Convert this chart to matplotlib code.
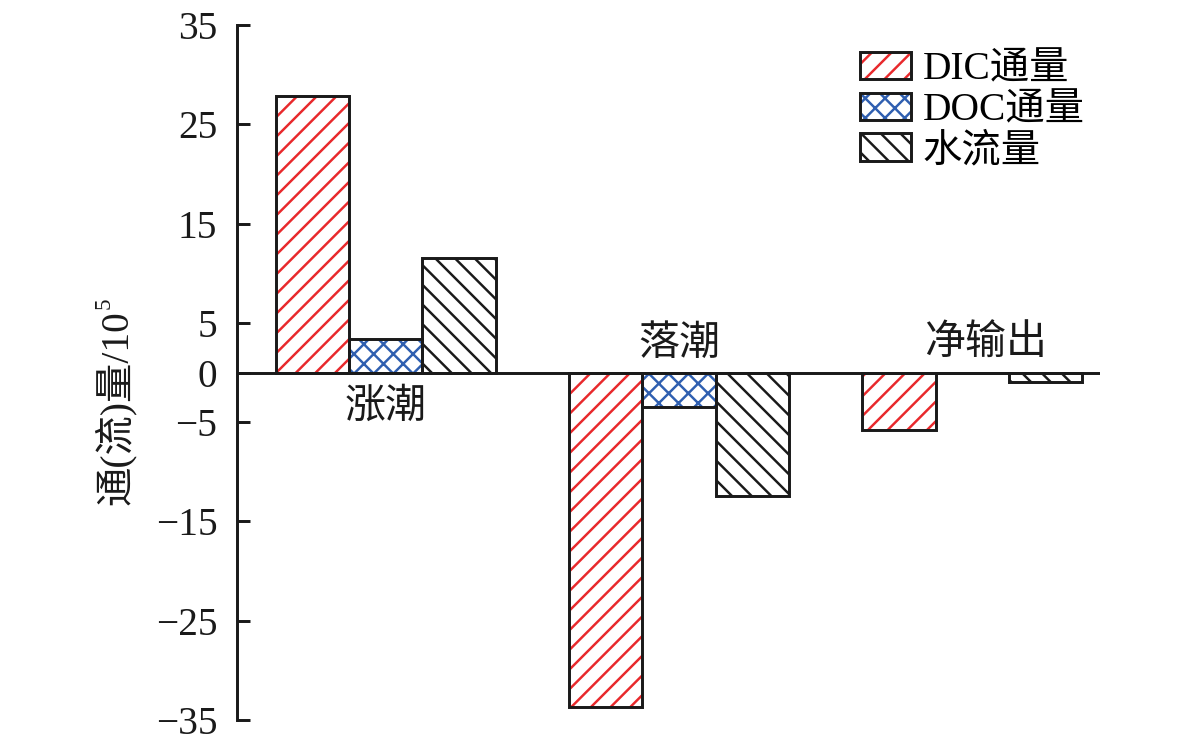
import matplotlib
matplotlib.use("Agg")
import matplotlib.pyplot as plt
from matplotlib.patches import Patch
from matplotlib.legend_handler import HandlerTuple
import numpy as np

categories = ["涨潮", "落潮", "净输出"]
series_names = ["DIC通量", "DOC通量", "水流量"]
dic_values = [27.8, -33.7, -5.8]
doc_values = [3.35, -3.5, 0.0]
water_values = [11.5, -12.4, -1.0]
yticks = [35, 25, 15, 5, 0, -5, -15, -25, -35]
ytick_labels = ["35", "25", "15", "5", "0", "\u22125", "\u221215", "\u221225", "\u221235"]

plt.rcParams['font.family'] = ['Liberation Serif', 'Noto Sans CJK SC']
plt.rcParams['hatch.linewidth'] = 1.5

DPI = 118
fig = plt.figure(figsize=(1181 / DPI, 745 / DPI), dpi=DPI)
ax = fig.add_axes([237 / 1181, 1 - 720 / 745, (1100 - 237) / 1181, (720 - 25) / 745])

x = np.arange(len(categories))
w = 0.25
hatch_colors = ["#e8292c", "#2f5fb0", "#1a1a1a"]
hatches = ["//", "xx", "\\\\"]
all_vals = [dic_values, doc_values, water_values]
handles = []
for i, (vals, hc, h) in enumerate(zip(all_vals, hatch_colors, hatches)):
    pos = x + (i - 1) * w
    ax.bar(pos, vals, w, facecolor="white", edgecolor=hc, hatch=h, linewidth=0, zorder=2)
    ax.bar(pos, vals, w, fill=False, edgecolor="#1a1a1a", linewidth=1.8, zorder=3)
    hp = Patch(facecolor="white", edgecolor=hc, hatch=h, linewidth=0)
    op = Patch(fill=False, edgecolor="#1a1a1a", linewidth=1.8)
    handles.append((hp, op))

ax.axhline(0, color="#1a1a1a", linewidth=1.8, zorder=4)

ax.set_xlim(-0.507, 2.435)
ax.set_ylim(-35, 35)
ax.set_yticks(yticks)
ax.set_yticklabels(ytick_labels, fontsize=24)
ax.set_xticks([])
for s in ["top", "right", "bottom"]:
    ax.spines[s].set_visible(False)
ax.spines["left"].set_linewidth(1.8)
ax.spines["left"].set_color("#1a1a1a")
ax.tick_params(axis="y", direction="in", length=8, width=1.8, pad=12, colors="#1a1a1a")

# y label: main part + superscript
ylab = fig.text(115 / 1181, 1 - 408 / 745, "通(流)量/10", fontsize=24, rotation=90,
                ha="center", va="center", color="#1a1a1a")

label_pos = [(0, -3.6), (1, 2.8), (2.045, 2.8)]
for (px, py), name in zip(label_pos, categories):
    ax.text(px, py, name, fontsize=25, ha="center", va="center", color="#1a1a1a")

leg = ax.legend(handles, series_names, handler_map={tuple: HandlerTuple(ndivide=1, pad=0)},
                loc="upper left", bbox_to_anchor=(0.7035, 0.985), frameon=False,
                fontsize=24, handlelength=1.3, handleheight=0.7, handletextpad=0.3,
                labelspacing=0.1, borderaxespad=0)

fig.canvas.draw()
bb = ylab.get_window_extent(renderer=fig.canvas.get_renderer())
fig.text((bb.x0 - 1) / fig.bbox.width, (bb.y1 + 2) / fig.bbox.height, "5", fontsize=14,
         rotation=90, ha="left", va="bottom", color="#1a1a1a")

fig.savefig("out.png", dpi=DPI)
